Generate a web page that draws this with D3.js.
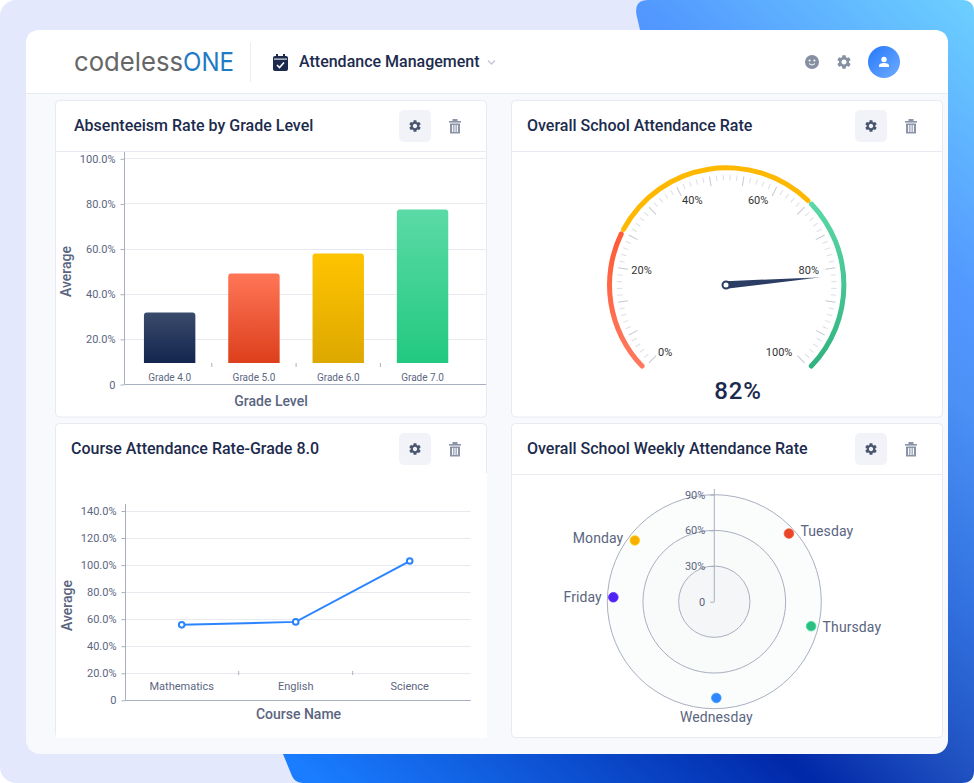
<!DOCTYPE html>
<html>
<head>
<meta charset="utf-8">
<script src="https://cdn.jsdelivr.net/npm/d3@7"></script>
<style>
  html, body { margin: 0; padding: 0; background: #fff; }
  svg { display: block; }
  text { font-family: Roboto, sans-serif; }
</style>
</head>
<body>
<div id="chart"></div>
<script>
// chart data
const gradeLabels = ['Grade 4.0', 'Grade 5.0', 'Grade 6.0', 'Grade 7.0']
const gradeAverages = [31.9, 49.2, 58, 77.5]
const gradeTicks = [0, 20, 40, 60, 80, 100]

const courseLabels = ['Mathematics', 'English', 'Science']
const courseAverages = [55.8, 58, 103]
const courseTicks = [0, 20, 40, 60, 80, 100, 120, 140]

const attendanceRate = 81.6
const gaugeSegments = [0, 26.7, 66.7, 100]
const gaugeLabels = [0, 20, 40, 60, 80, 100]

const weekDays = ['Monday', 'Tuesday', 'Wednesday', 'Thursday', 'Friday']
const weekAngles = [307.6, 47.6, 178.8, 104.2, 272.5]
const weekValues = [84.4, 85, 81, 84, 85]
const weekTicks = [0, 30, 60, 90]

const ink = '#1c2b4d'
const muted = '#5a6580'
const tickInk = '#5c667f'
const gridLine = '#e8eaf0'
const axisLine = '#a9afbf'
const iconGray = '#8a93a8'
const gearPath = 'M19.14 12.94c.04-.3.06-.61.06-.94 0-.32-.02-.64-.07-.94l2.03-1.58c.18-.14.23-.41.12-.61l-1.92-3.32c-.12-.22-.37-.29-.59-.22l-2.39.96c-.5-.38-1.03-.7-1.62-.94l-.36-2.54c-.04-.24-.24-.41-.48-.41h-3.84c-.24 0-.43.17-.47.41l-.36 2.54c-.59.24-1.13.57-1.62.94l-2.39-.96c-.22-.08-.47 0-.59.22L2.74 8.87c-.12.21-.08.47.12.61l2.03 1.58c-.05.3-.09.63-.09.94s.02.64.07.94l-2.03 1.58c-.18.14-.23.41-.12.61l1.92 3.32c.12.22.37.29.59.22l2.39-.96c.5.38 1.03.7 1.62.94l.36 2.54c.05.24.24.41.48.41h3.84c.24 0 .44-.17.47-.41l.36-2.54c.59-.24 1.13-.56 1.62-.94l2.39.96c.22.08.47 0 .59-.22l1.92-3.32c.12-.22.07-.47-.12-.61l-2.01-1.58zM12 15.6c-1.98 0-3.6-1.62-3.6-3.6s1.62-3.6 3.6-3.6 3.6 1.62 3.6 3.6-1.62 3.6-3.6 3.6z'

const svg = d3.select('#chart').append('svg').attr('width', 974).attr('height', 783)
const defs = svg.append('defs')

function addGradient(id, stops, coords = { x1: 0, y1: 0, x2: 0, y2: 1 }, user = false) {
  const g = defs.append('linearGradient').attr('id', id)
    .attr('x1', coords.x1).attr('y1', coords.y1).attr('x2', coords.x2).attr('y2', coords.y2)
  if (user) g.attr('gradientUnits', 'userSpaceOnUse')
  stops.forEach(([offset, color, opacity = 1]) => {
    g.append('stop').attr('offset', offset).attr('stop-color', color).attr('stop-opacity', opacity)
  })
}

addGradient('blueShape', [
  [0, '#6dd0ff'], [0.215, '#5298ff'], [0.3, '#4a90f5'], [0.44, '#3272e0'], [0.564, '#1f50c0'], [0.664, '#0028a8'], [0.98, '#1a7dff']
], { x1: 974, y1: 0, x2: 285, y2: 783 }, true)
addGradient('avatar', [[0, '#2478fb'], [1, '#70acff']], { x1: 0, y1: 0, x2: 1, y2: 1 })
addGradient('bar0', [[0, '#3a4a6b'], [1, '#14264f']])
addGradient('bar1', [[0, '#ff7657'], [1, '#dc3f1c']])
addGradient('bar2', [[0, '#ffc400'], [1, '#dda800']])
addGradient('bar3', [[0, '#5bdaa6'], [1, '#22c980']])
addGradient('gaugeRed', [[0, '#ff5a36'], [1, '#ff7a5f']])
addGradient('gaugeGreen', [[0, '#5ad8a6'], [1, '#30b27e']])
addGradient('needle', [[0, '#2b3d63'], [0.75, '#2b3d63'], [1, '#2b3d63', 0.55]], { x1: 0, y1: 1, x2: 0, y2: 0 })

// backdrop
svg.append('rect').attr('width', 974).attr('height', 783).attr('rx', 16).attr('fill', '#e3e8fd')
svg.append('path').attr('fill', 'url(#blueShape)')
  .attr('d', 'M648,0 H962 Q974,0 974,12 V771 Q974,783 962,783 H303 Q295,783 292,776 L283,754 L640,30 L636.5,15 Q634,0 648,0 Z')
svg.append('rect').attr('x', 26).attr('y', 30).attr('width', 922).attr('height', 724).attr('rx', 14).attr('fill', '#f8f9fc')
svg.append('path').attr('fill', '#fff')
  .attr('d', 'M26,93 V44 Q26,30 40,30 H934 Q948,30 948,44 V93 Z')
svg.append('line').attr('x1', 26).attr('x2', 948).attr('y1', 93.5).attr('y2', 93.5).attr('stroke', '#e9ebf2')
svg.append('line').attr('x1', 250.5).attr('x2', 250.5).attr('y1', 42).attr('y2', 82).attr('stroke', '#eceef3')

// top bar
svg.append('text').attr('x', 74).attr('y', 71).attr('font-size', 26).attr('fill', '#666')
  .style('font-family', 'Inter, sans-serif').attr('textLength', 109).attr('lengthAdjust', 'spacingAndGlyphs').text('codeless')
svg.append('text').attr('x', 183).attr('y', 71).attr('font-size', 26).attr('fill', '#1f7bc4')
  .style('font-family', 'Inter, sans-serif').attr('textLength', 51).attr('lengthAdjust', 'spacingAndGlyphs').text('ONE')

const calendar = svg.append('g').attr('transform', 'translate(273,54)')
calendar.append('rect').attr('y', 2).attr('width', 15).attr('height', 15).attr('rx', 2).attr('fill', ink)
calendar.append('rect').attr('x', 3).attr('width', 2).attr('height', 4).attr('fill', ink)
calendar.append('rect').attr('x', 10).attr('width', 2).attr('height', 4).attr('fill', ink)
calendar.append('rect').attr('x', 1).attr('y', 4.6).attr('width', 13).attr('height', 1).attr('fill', '#fff')
calendar.append('path').attr('d', 'M4,11 L6.5,13.5 L11,8.5').attr('fill', 'none').attr('stroke', '#fff').attr('stroke-width', 1.6)

svg.append('text').attr('x', 299).attr('y', 67).attr('font-size', 16).attr('font-weight', 500)
  .attr('fill', ink).text('Attendance Management')
svg.append('path').attr('d', 'M488,60.5 L491.5,64 L495,60.5').attr('fill', 'none').attr('stroke', '#c6cad5').attr('stroke-width', 1.5)

const smile = svg.append('g').attr('transform', 'translate(812,62)')
smile.append('circle').attr('r', 7).attr('fill', '#878fa3')
smile.append('circle').attr('cx', -2.4).attr('cy', -1.6).attr('r', 1).attr('fill', '#fff')
smile.append('circle').attr('cx', 2.4).attr('cy', -1.6).attr('r', 1).attr('fill', '#fff')
smile.append('path').attr('d', 'M-3,1.6 Q0,4.6 3,1.6').attr('fill', 'none').attr('stroke', '#fff').attr('stroke-width', 1)

svg.append('path').attr('d', gearPath).attr('fill', '#878fa3').attr('fill-rule', 'evenodd')
  .attr('transform', 'translate(844,62) scale(.7) translate(-12,-12)')

svg.append('circle').attr('cx', 884).attr('cy', 62).attr('r', 16).attr('fill', 'url(#avatar)')
svg.append('circle').attr('cx', 884).attr('cy', 59.5).attr('r', 2.7).attr('fill', '#fff')
svg.append('path').attr('d', 'M879,67 V65.5 Q879,63 884,63 Q889,63 889,65.5 V67 Z').attr('fill', '#fff')

// a dashboard panel with its title and the two buttons
function addPanel({ x, y, height, title, titleX, gearX, divider = true }) {
  const g = svg.append('g')
  g.append('rect').attr('x', x).attr('y', y).attr('width', 431).attr('height', height).attr('rx', 4)
    .attr('fill', '#fff').attr('stroke', '#e8eaf1')
  if (divider) {
    g.append('line').attr('x1', x).attr('x2', x + 431).attr('y1', y + 51).attr('y2', y + 51).attr('stroke', '#e8eaf1')
  }
  g.append('text').attr('x', titleX).attr('y', y + 30.5).attr('font-size', 16).attr('font-weight', 500)
    .attr('fill', ink).text(title)
  g.append('rect').attr('x', gearX - 16).attr('y', y + 9.5).attr('width', 32).attr('height', 32).attr('rx', 5).attr('fill', '#f1f3f8')
  g.append('path').attr('d', gearPath).attr('fill', '#4a556f').attr('fill-rule', 'evenodd')
    .attr('transform', `translate(${gearX},${y + 25.5}) scale(.6) translate(-12,-12)`)
  const trash = g.append('g').attr('transform', `translate(${gearX + 40},${y + 25.5})`).attr('fill', iconGray)
  trash.append('rect').attr('x', -6).attr('y', -5).attr('width', 12).attr('height', 1.6)
  trash.append('rect').attr('x', -2.5).attr('y', -7).attr('width', 5).attr('height', 2)
  trash.append('path').attr('fill-rule', 'evenodd')
    .attr('d', 'M-5,-2.6 H5 V7.5 H-5 Z M-2.9,-1 V6 H-1.7 V-1 Z M-.6,-1 V6 H.6 V-1 Z M1.7,-1 V6 H2.9 V-1 Z')
}

addPanel({ x: 55.5, y: 100.5, height: 316.5, title: 'Absenteeism Rate by Grade Level', titleX: 74, gearX: 415 })
addPanel({ x: 511.5, y: 100.5, height: 316.5, title: 'Overall School Attendance Rate', titleX: 527, gearX: 871 })
addPanel({ x: 55.5, y: 423.5, height: 314, title: 'Course Attendance Rate-Grade 8.0', titleX: 71, gearX: 415, divider: false })
addPanel({ x: 511.5, y: 423.5, height: 314, title: 'Overall School Weekly Attendance Rate', titleX: 527, gearX: 871 })
// the course chart sits on a white sheet that hides the panel's lower edge
svg.append('rect').attr('x', 56).attr('y', 473).attr('width', 431).attr('height', 265).attr('fill', '#fff')

const percentFormat = d => d === 0 ? '0' : `${d.toFixed(1)}%`

function drawValueAxis(y, ticks, { left, right, top }) {
  const axis = svg.append('g').attr('transform', `translate(${left},0)`)
    .call(d3.axisLeft(y).tickValues(ticks).tickSize(4).tickPadding(5).tickFormat(percentFormat))
  axis.select('.domain').remove()
  axis.selectAll('.tick line').attr('stroke', axisLine)
  axis.selectAll('text').attr('font-size', 11).attr('fill', tickInk).style('font-family', 'Roboto, sans-serif')
  svg.append('g').selectAll('line').data(ticks.filter(d => d > 0)).join('line')
    .attr('x1', left).attr('x2', right)
    .attr('y1', d => Math.floor(y(d)) + 0.5).attr('y2', d => Math.floor(y(d)) + 0.5)
    .attr('stroke', gridLine)
  const base = Math.floor(y(0)) + 0.5
  svg.append('line').attr('x1', left).attr('x2', left).attr('y1', top).attr('y2', base).attr('stroke', axisLine)
  svg.append('line').attr('x1', left).attr('x2', right).attr('y1', base).attr('y2', base).attr('stroke', axisLine)
}

function drawCategoryAxis(x, baseline, fontSize, padding) {
  const axis = svg.append('g').attr('transform', `translate(0,${baseline})`)
    .call(d3.axisBottom(x).tickSize(0).tickPadding(padding))
  axis.select('.domain').remove()
  axis.selectAll('text').attr('font-size', fontSize).attr('fill', tickInk).style('font-family', 'Roboto, sans-serif')
  // the tick marks stand between the categories, not under them
  svg.append('g').selectAll('line').data(x.domain().slice(1)).join('line')
    .attr('x1', d => x(d) - (x.step() - x.bandwidth()) / 2).attr('x2', d => x(d) - (x.step() - x.bandwidth()) / 2)
    .attr('y1', baseline).attr('y2', baseline + 4).attr('stroke', axisLine)
}

function axisTitle(text, x, y, rotate = false) {
  svg.append('text').attr('text-anchor', 'middle').attr('font-size', 14).attr('font-weight', 500).attr('fill', muted)
    .attr('transform', `translate(${x},${y})${rotate ? ' rotate(-90)' : ''}`).text(text)
}

// bar chart
const gradeY = d3.scaleLinear().domain([0, 100]).range([384.5, 158.8])
const gradeX = d3.scaleBand().domain(gradeLabels).range([127.5, 464.7]).paddingInner(0.39).paddingOuter(0.195)
const barBaseline = 363
drawValueAxis(gradeY, gradeTicks, { left: 124.5, right: 486, top: 152 })
drawCategoryAxis(gradeX, barBaseline, 10, 11)
svg.append('g').selectAll('path').data(gradeLabels).join('path')
  .attr('fill', (d, i) => `url(#bar${i})`)
  .attr('d', (d, i) => {
    const left = gradeX(d)
    const w = gradeX.bandwidth()
    const top = gradeY(gradeAverages[i])
    return `M${left},${barBaseline} V${top + 3} Q${left},${top} ${left + 3},${top} H${left + w - 3} Q${left + w},${top} ${left + w},${top + 3} V${barBaseline} Z`
  })
axisTitle('Grade Level', 271, 406)
axisTitle('Average', 71, 271.5, true)

// line chart
const courseY = d3.scaleLinear().domain([0, 140]).range([700.3, 511])
const courseX = d3.scaleBand().domain(courseLabels).range([124.7, 466.7])
drawValueAxis(courseY, courseTicks, { left: 125.5, right: 470.7, top: 504 })
drawCategoryAxis(courseX, 671, 11, 11)
const courseMid = d => courseX(d) + courseX.bandwidth() / 2
svg.append('path').attr('fill', 'none').attr('stroke', '#2a84ff').attr('stroke-width', 2)
  .attr('d', d3.line().x(d => courseMid(d)).y((d, i) => courseY(courseAverages[i]))(courseLabels))
svg.append('g').selectAll('circle').data(courseLabels).join('circle')
  .attr('cx', d => courseMid(d)).attr('cy', (d, i) => courseY(courseAverages[i])).attr('r', 2.8)
  .attr('fill', '#fff').attr('stroke', '#2a84ff').attr('stroke-width', 2)
axisTitle('Course Name', 298.5, 719)
axisTitle('Average', 72, 605.5, true)

// gauge
const gaugeAngle = d3.scaleLinear().domain([0, 100]).range([-135, 135])
const gauge = svg.append('g').attr('transform', 'translate(726.7,285)')
const rad = Math.PI / 180
const gaugeArc = d3.arc().innerRadius(114.7).outerRadius(119.7).cornerRadius(2.5)
const gaugeFills = ['url(#gaugeRed)', '#ffb800', 'url(#gaugeGreen)']
gauge.selectAll('path.segment').data(gaugeFills).join('path').attr('class', 'segment')
  .attr('fill', d => d)
  .attr('d', (d, i) => gaugeArc({
    startAngle: gaugeAngle(gaugeSegments[i]) * rad,
    endAngle: gaugeAngle(gaugeSegments[i + 1]) * rad
  }))
gauge.selectAll('line.tick').data(d3.range(76)).join('line').attr('class', 'tick')
  .attr('transform', d => `rotate(${-135 + d * 3.6})`)
  .attr('y1', -110).attr('y2', d => d % 5 === 0 ? -100 : -104.5)
  .attr('stroke', d => d % 5 === 0 ? '#c6c9d4' : '#dcdfe6')
gauge.selectAll('text.label').data(gaugeLabels).join('text').attr('class', 'label')
  .attr('x', d => 95 * Math.sin(gaugeAngle(d) * rad) - 1.5)
  .attr('y', d => -95 * Math.cos(gaugeAngle(d) * rad))
  .attr('dy', '0.35em').attr('font-size', 11).attr('fill', '#333')
  .attr('text-anchor', d => d < 50 ? 'start' : 'end')
  .text(d => `${d}%`)
gauge.append('g').attr('transform', 'translate(-0.7,0)').append('path').attr('fill', 'url(#needle)')
  .attr('transform', `rotate(${gaugeAngle(attendanceRate)})`)
  .attr('d', 'M-3.8,0 L0,-96 L3.8,0 Z')
gauge.append('circle').attr('cx', -0.7).attr('r', 3.5).attr('fill', '#fff').attr('stroke', '#2b3d63').attr('stroke-width', 2)
svg.append('text').attr('x', 738).attr('y', 399).attr('text-anchor', 'middle').attr('font-size', 24).attr('font-weight', 500)
  .attr('fill', ink).attr('letter-spacing', 0.8).text(`${Math.round(attendanceRate)}%`)

// polar scatter
const polarR = d3.scaleLinear().domain([0, 90]).range([0, 107])
const polar = svg.append('g').attr('transform', 'translate(714.3,601.7)')
const ringFills = ['#fbfcfc', '#f9fafa', '#f5f6f7']
polar.selectAll('circle.ring').data(weekTicks.slice(1).reverse()).join('circle').attr('class', 'ring')
  .attr('r', d => polarR(d)).attr('fill', (d, i) => ringFills[i]).attr('stroke', axisLine)
polar.append('line').attr('y1', 0).attr('y2', -112.7).attr('stroke', axisLine)
const polarAxis = polar.append('g')
  .call(d3.axisLeft(d3.scaleLinear().domain([0, 90]).range([0, -107])).tickValues(weekTicks).tickSize(4).tickPadding(5)
    .tickFormat(d => d === 0 ? '0' : `${d}%`))
polarAxis.select('.domain').remove()
polarAxis.selectAll('.tick line').attr('stroke', axisLine)
polarAxis.selectAll('text').attr('font-size', 11).attr('fill', tickInk).style('font-family', 'Roboto, sans-serif')

const weekColors = ['#f5b000', '#e8472a', '#2f86ff', '#2dbf82', '#4f22f5']
const dayX = i => polarR(weekValues[i]) * Math.sin(weekAngles[i] * rad)
const dayY = i => -polarR(weekValues[i]) * Math.cos(weekAngles[i] * rad)
polar.selectAll('circle.day').data(weekDays).join('circle').attr('class', 'day')
  .attr('cx', (d, i) => dayX(i)).attr('cy', (d, i) => dayY(i)).attr('r', 4.8)
  .attr('fill', (d, i) => weekColors[i])
  .attr('stroke', (d, i) => d3.color(weekColors[i]).brighter(0.5)).attr('stroke-width', 0.8)
polar.selectAll('text.day').data(weekDays).join('text').attr('class', 'day')
  .attr('font-size', 14).attr('fill', muted).attr('letter-spacing', 0.1)
  .attr('text-anchor', (d, i) => Math.abs(dayX(i)) < 10 ? 'middle' : dayX(i) < 0 ? 'end' : 'start')
  .attr('x', (d, i) => Math.abs(dayX(i)) < 10 ? dayX(i) : dayX(i) + Math.sign(dayX(i)) * 11.5)
  .attr('y', (d, i) => Math.abs(dayX(i)) < 10 ? dayY(i) + 24 : dayY(i) * 1.04 + 5)
  .text(d => d)
</script>
</body>
</html>
